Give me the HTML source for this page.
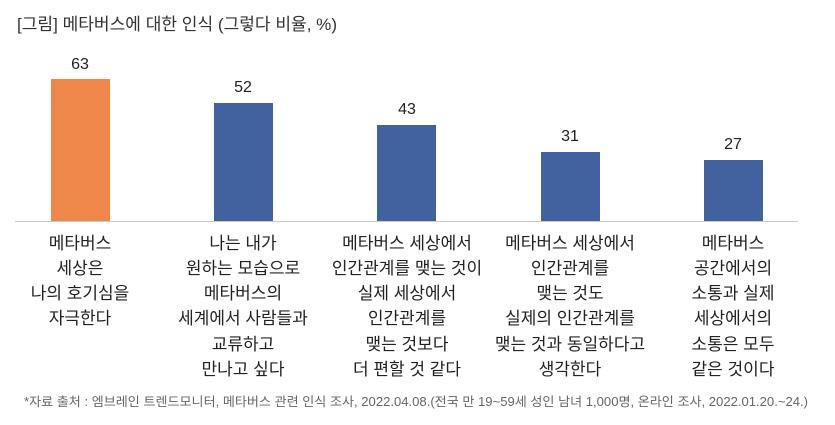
<!DOCTYPE html>
<html><head><meta charset="utf-8"><style>
html,body{margin:0;padding:0;background:#fff;}
svg{display:block;font-family:"Liberation Sans","Noto Sans CJK KR",sans-serif;}
</style></head><body>
<svg width="835" height="425" viewBox="0 0 835 425" xmlns="http://www.w3.org/2000/svg">
<text x="17" y="30" font-size="17" fill="#333" textLength="320" lengthAdjust="spacingAndGlyphs">[그림] 메타버스에 대한 인식 (그렇다 비율, %)</text>
<line x1="15" y1="221.5" x2="798" y2="221.5" stroke="#c8c8c8" stroke-width="1"/>
<rect x="51" y="79" width="59" height="142" fill="#f0874a"/>
<rect x="214" y="103" width="59" height="118" fill="#41629e"/>
<rect x="377" y="125" width="59" height="96" fill="#41629e"/>
<rect x="541" y="152" width="59" height="69" fill="#41629e"/>
<rect x="704" y="160" width="59" height="61" fill="#41629e"/>
<g font-size="16" fill="#222" text-anchor="middle">
<text x="80" y="69">63</text>
<text x="243" y="92">52</text>
<text x="407" y="114">43</text>
<text x="570" y="141">31</text>
<text x="733" y="149">27</text>
</g>
<g font-size="17" fill="#222" text-anchor="middle">
<text x="80" y="249">메타버스</text>
<text x="80" y="274">세상은</text>
<text x="80" y="299">나의 호기심을</text>
<text x="80" y="324">자극한다</text>
<text x="243" y="249">나는 내가</text>
<text x="243" y="274">원하는 모습으로</text>
<text x="243" y="299">메타버스의</text>
<text x="243" y="324">세계에서 사람들과</text>
<text x="243" y="350">교류하고</text>
<text x="243" y="375">만나고 싶다</text>
<text x="407" y="249">메타버스 세상에서</text>
<text x="407" y="274">인간관계를 맺는 것이</text>
<text x="407" y="299">실제 세상에서</text>
<text x="407" y="324">인간관계를</text>
<text x="407" y="350">맺는 것보다</text>
<text x="407" y="375">더 편할 것 같다</text>
<text x="570" y="249">메타버스 세상에서</text>
<text x="570" y="274">인간관계를</text>
<text x="570" y="299">맺는 것도</text>
<text x="570" y="324">실제의 인간관계를</text>
<text x="570" y="350">맺는 것과 동일하다고</text>
<text x="570" y="375">생각한다</text>
<text x="733" y="249">메타버스</text>
<text x="733" y="274">공간에서의</text>
<text x="733" y="299">소통과 실제</text>
<text x="733" y="324">세상에서의</text>
<text x="733" y="350">소통은 모두</text>
<text x="733" y="375">같은 것이다</text>
</g>
<text x="24" y="406" font-size="12.5" fill="#666" textLength="784" lengthAdjust="spacingAndGlyphs">*자료 출처 : 엠브레인 트렌드모니터, 메타버스 관련 인식 조사, 2022.04.08.(전국 만 19~59세 성인 남녀 1,000명, 온라인 조사, 2022.01.20.~24.)</text>
</svg>
</body></html>
